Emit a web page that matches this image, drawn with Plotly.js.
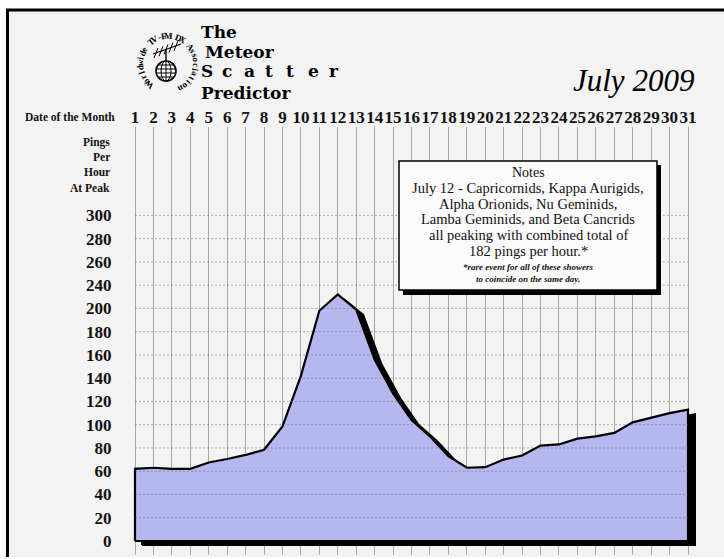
<!DOCTYPE html>
<html>
<head>
<meta charset="utf-8">
<script src="https://cdn.plot.ly/plotly-3.0.1.min.js"></script>
<style>html,body{margin:0;padding:0;background:#fff;}#chart{width:724px;height:559px;}</style>
</head>
<body>
<div id="chart"></div>
<script>
// ---- data ----
const days = [1,2,3,4,5,6,7,8,9,10,11,12,13,14,15,16,17,18,19,20,21,22,23,24,25,26,27,28,29,30,31];
const dayLabels = days.map(String);
// pings per hour at peak, read on the chart's evenly spaced grid (grid position units)
const pings = [62,63,62,62,67.5,70.5,74,78.5,98.5,142,198,212,199,156,127,104,90,73,63,63.5,70,73.5,82,83,88,90,93,102,106,110,113];
const yTickVals = [0,20,40,60,80,100,120,140,160,180,200,220,240,260,280];
const yTickText = ["0","20","40","60","80","100","120","140","160","180","200","240","260","280","300"];
const titleLines = ["The","Meteor","S c a t t e r","Predictor"];
const monthTitle = "July 2009";
const ringText = "Worldwide TV-FM DX Association";
const notesHead = "Notes";
const notesLines = ["July 12 - Capricornids, Kappa Aurigids,","Alpha Orionids, Nu Geminids,","Lamba Geminids, and Beta Cancrids","all peaking with combined total of","182 pings per hour.*"];
const notesFoot = ["*rare event for all of these showers","to coincide on the same day."];
const axisNotes = ["Pings","Per","Hour","At Peak"];
const xCaption = "Date of the Month";

// ---- layout helpers ----
const W = 724, H = 559;
const PX = x => x / W, PY = y => 1 - y / H;
const SERIF = '"Liberation Serif", serif';
const HEAVY = '"DejaVu Serif", serif';

const xRange = [0.5, 31.6];
const yRange = [-12, 356];
const xDom = [125.78 / W, 699.06 / W];
const yDom = [(H - 554.95) / H, (H - 127) / H];
const sdx = 7 / W, sdy = 6 / H;

const polyX = [days[0], ...days, days[days.length - 1], days[0]];
const polyY = [0, ...pings, 0, 0];

const traces = [
  {x: [], y: [], type: 'scatter', xaxis: 'x', yaxis: 'y', hoverinfo: 'skip', showlegend: false},
  {x: polyX, y: polyY, type: 'scatter', mode: 'lines', xaxis: 'x2', yaxis: 'y2', fill: 'toself',
   fillcolor: '#000', line: {color: '#000', width: 2}, hoverinfo: 'skip', showlegend: false},
  {x: polyX, y: polyY, type: 'scatter', mode: 'lines', xaxis: 'x3', yaxis: 'y3', fill: 'toself',
   fillcolor: '#b7b7ef', line: {color: '#000', width: 2.2}, hoverinfo: 'skip', showlegend: false}
];

const shapes = [
  {type: 'rect', xref: 'paper', yref: 'paper', x0: 0, x1: 1, y0: PY(0), y1: PY(9), fillcolor: '#fff', line: {width: 0}, layer: 'below'},
  {type: 'rect', xref: 'paper', yref: 'paper', x0: 0, x1: PX(6), y0: 0, y1: 1, fillcolor: '#fff', line: {width: 0}, layer: 'below'},
  {type: 'rect', xref: 'paper', yref: 'paper', x0: 0, x1: 1, y0: 0, y1: PY(557), fillcolor: '#fff', line: {width: 0}, layer: 'below'},
  {type: 'line', xref: 'paper', yref: 'paper', x0: PX(6), x1: 1, y0: PY(10), y1: PY(10), line: {color: '#000', width: 3}},
  {type: 'line', xref: 'paper', yref: 'paper', x0: PX(7.5), x1: PX(7.5), y0: PY(9), y1: PY(557), line: {color: '#000', width: 3}}
];
// dotted horizontal grid over the fill
yTickVals.slice(1).forEach(v => shapes.push({type: 'line', xref: 'x3', yref: 'y3', x0: days[0], x1: days[days.length - 1], y0: v, y1: v,
  layer: 'above', line: {color: 'rgba(90,90,90,0.45)', width: 1, dash: '2px,2px'}}));
// notes box with shadow
shapes.push({type: 'rect', xref: 'paper', yref: 'paper', x0: PX(403), x1: PX(661), y0: PY(295), y1: PY(165), fillcolor: '#000', line: {width: 0}});
shapes.push({type: 'rect', xref: 'paper', yref: 'paper', x0: PX(399), x1: PX(657), y0: PY(290), y1: PY(161), fillcolor: '#fbfbfb', line: {color: '#000', width: 1.5}});
// logo: globe
const gcx = 166, gcy = 71, gr = 10;
shapes.push({type: 'circle', xref: 'paper', yref: 'paper', x0: PX(gcx - gr), x1: PX(gcx + gr), y0: PY(gcy + gr), y1: PY(gcy - gr), fillcolor: '#fff', line: {color: '#000', width: 1.6}});
shapes.push({type: 'circle', xref: 'paper', yref: 'paper', x0: PX(gcx - 5), x1: PX(gcx + 5), y0: PY(gcy + gr), y1: PY(gcy - gr), line: {color: '#000', width: 1}});
[-6, -2, 2, 6].forEach(d => {
  const half = Math.sqrt(gr * gr - d * d);
  shapes.push({type: 'line', xref: 'paper', yref: 'paper', x0: PX(gcx - half), x1: PX(gcx + half), y0: PY(gcy + d), y1: PY(gcy + d), line: {color: '#000', width: 1}});
});
shapes.push({type: 'line', xref: 'paper', yref: 'paper', x0: PX(gcx), x1: PX(gcx), y0: PY(gcy + gr), y1: PY(gcy - gr), line: {color: '#000', width: 1}});
// antenna
shapes.push({type: 'line', xref: 'paper', yref: 'paper', x0: PX(gcx), x1: PX(gcx), y0: PY(gcy - gr), y1: PY(49), line: {color: '#000', width: 1.4}});
shapes.push({type: 'line', xref: 'paper', yref: 'paper', x0: PX(153), x1: PX(181), y0: PY(54), y1: PY(44), line: {color: '#000', width: 1.2}});
[[156, 53], [161, 51.2], [166, 49.4], [171, 47.6], [176, 45.8]].forEach(p => {
  shapes.push({type: 'line', xref: 'paper', yref: 'paper', x0: PX(p[0] - 2), x1: PX(p[0] + 2), y0: PY(p[1] + 5), y1: PY(p[1] - 5), line: {color: '#000', width: 1}});
});

const annotations = [];
const addText = (text, x, y, size, opts = {}) => annotations.push(Object.assign({
  text: text, xref: 'paper', yref: 'paper', x: PX(x), y: PY(y), showarrow: false,
  xanchor: 'center', yanchor: 'middle', font: {size: size, color: '#111', family: SERIF}
}, opts));

// title block
const heavy = s => ({size: s, color: '#000', family: HEAVY});
addText('<b>' + titleLines[0] + '</b>', 199, 32, 17, {xanchor: 'left', font: heavy(17)});
addText('<b>' + titleLines[1] + '</b>', 203, 52, 17, {xanchor: 'left', font: heavy(17)});
titleLines[2].split(' ').forEach((ch, i) => addText('<b>' + ch + '</b>', 199 + i * 21.3, 71, 17, {xanchor: 'left', font: heavy(17)}));
addText('<b>' + titleLines[3] + '</b>', 199, 93, 17, {xanchor: 'left', font: heavy(17)});
addText('<i>' + monthTitle + '</i>', 633, 80, 31, {font: {size: 31, color: '#000', family: SERIF}});
// ring text around the logo
const rcx = 168, rcy = 64, rr = 28, a0 = -138, a1 = 152;
ringText.split('').forEach((ch, i) => {
  const th = a0 + (a1 - a0) * i / (ringText.length - 1);
  const rad = th * Math.PI / 180;
  addText('<b>' + ch + '</b>', rcx + rr * Math.sin(rad), rcy - rr * Math.cos(rad), 9, {textangle: th, font: {size: 9, color: '#000', family: SERIF}});
});
// axis captions
addText('<b>' + xCaption + '</b>', 117, 117, 11.5, {xanchor: 'right', font: {size: 11.5, color: '#111', family: SERIF}});
const noteY = [142, 156.5, 172, 188];
axisNotes.forEach((t, i) => addText('<b>' + t + '</b>', 112, noteY[i], 11.5, {xanchor: 'right', font: {size: 11.5, color: '#111', family: SERIF}}));
// notes text
addText(notesHead, 528, 173, 14, {font: {size: 14, color: '#111', family: SERIF}});
notesLines.forEach((t, i) => addText(t, 528, 188.5 + i * 15.5, 14.5, {font: {size: 14.5, color: '#111', family: SERIF}}));
notesFoot.forEach((t, i) => addText('<b><i>' + t + '</i></b>', 528, 267 + i * 12, 9, {font: {size: 9, color: '#111', family: SERIF}}));

const tickFont = size => ({family: SERIF, size: size, color: '#111', weight: 'bold'});
const layout = {
  width: W, height: H, margin: {l: 0, r: 0, t: 0, b: 0},
  paper_bgcolor: '#f3f3f3', plot_bgcolor: 'rgba(0,0,0,0)', showlegend: false,
  xaxis: {domain: xDom, range: xRange, anchor: 'y', side: 'top', tickmode: 'array', tickvals: days, ticktext: dayLabels, tickangle: 0,
    showgrid: true, gridcolor: '#a8a8a8', gridwidth: 1, zeroline: false, showline: false, ticks: '', tickfont: tickFont(17), fixedrange: true},
  yaxis: {domain: yDom, range: yRange, anchor: 'x', tickmode: 'array', tickvals: yTickVals, ticktext: yTickText,
    showgrid: false, zeroline: false, showline: false, ticks: 'outside', ticklen: 10, tickcolor: 'rgba(0,0,0,0)', tickfont: tickFont(17), fixedrange: true},
  xaxis2: {domain: [xDom[0] + sdx, xDom[1] + sdx], range: xRange, anchor: 'y2', visible: false, fixedrange: true},
  yaxis2: {domain: [yDom[0] - sdy, yDom[1] - sdy], range: yRange, anchor: 'x2', visible: false, fixedrange: true},
  xaxis3: {domain: xDom, range: xRange, anchor: 'y3', visible: false, fixedrange: true},
  yaxis3: {domain: yDom, range: yRange, anchor: 'x3', visible: false, fixedrange: true},
  shapes: shapes, annotations: annotations
};
Plotly.newPlot('chart', traces, layout, {displayModeBar: false, staticPlot: true});
</script>
</body>
</html>
